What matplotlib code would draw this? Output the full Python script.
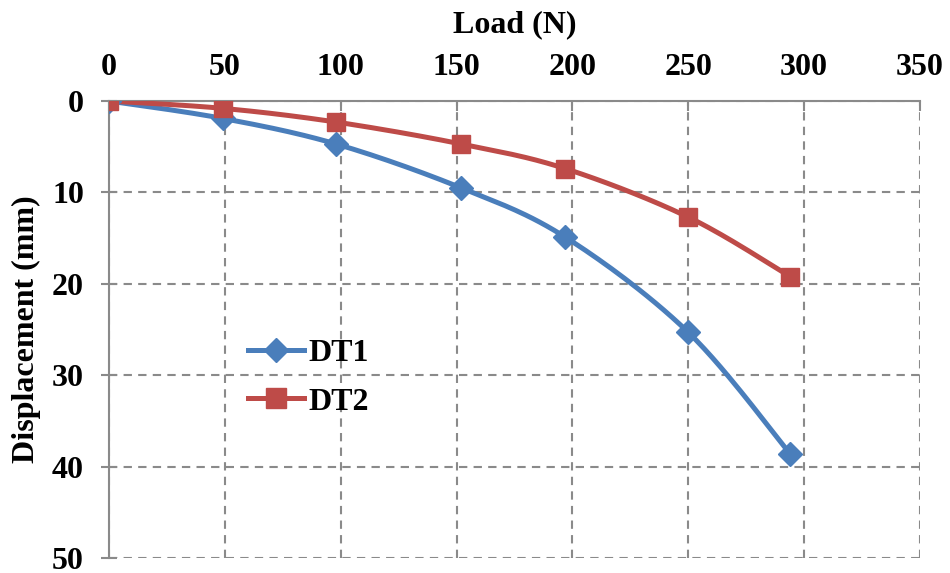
import matplotlib.pyplot as plt
import numpy as np

plt.rcParams['font.family'] = ['Liberation Serif', 'DejaVu Serif']
plt.rcParams['font.weight'] = 'bold'

# Load (N) and displacement (mm) for the two transducers
load = [0, 49, 98, 152, 197, 250, 294]
dt1 = [0, 1.9, 4.7, 9.5, 14.9, 25.3, 38.6]
dt2 = [0, 0.8, 2.3, 4.7, 7.4, 12.7, 19.2]

x_ticks = [0, 50, 100, 150, 200, 250, 300, 350]
y_ticks = [0, 10, 20, 30, 40, 50]


def smooth(x, y, sx, sy, n=30):
    """Catmull-Rom style bezier through the points (spreadsheet-like smoothing)"""
    p = np.column_stack([np.asarray(x, float) / sx, np.asarray(y, float) / sy])
    p = np.vstack([p[0], p, p[-1]])
    out = []
    t = np.linspace(0, 1, n)[:, None]
    for i in range(1, len(p) - 2):
        p0, p1, p2, p3 = p[i - 1], p[i], p[i + 1], p[i + 2]
        c1 = p1 + (p2 - p0) / 6
        c2 = p2 - (p3 - p1) / 6
        seg = ((1 - t) ** 3) * p1 + 3 * ((1 - t) ** 2) * t * c1 \
            + 3 * (1 - t) * t ** 2 * c2 + t ** 3 * p2
        out.append(seg if i == 1 else seg[1:])
    out = np.vstack(out)
    return out[:, 0] * sx, out[:, 1] * sy


fig = plt.figure(figsize=(9.5, 5.73), dpi=100)
ax = fig.add_axes([0.1147, 0.026, 0.8537, 0.7977])

blue = '#4A7EBB'
red = '#BE4B48'
sx, sy = 350 * 1.5, 50.0
fs = 23

xs, ys = smooth(load, dt1, sx, sy)
ax.plot(xs, ys, color=blue, lw=3.6, solid_capstyle='round', zorder=3)
ax.plot(load, dt1, 'D', color=blue, ms=12, zorder=4)
xs, ys = smooth(load, dt2, sx, sy)
ax.plot(xs, ys, color=red, lw=3.6, solid_capstyle='round', zorder=3)
ax.plot(load, dt2, 's', color=red, ms=13.5, zorder=4)

# legend proxies
h1, = ax.plot([], [], color=blue, lw=3.6, marker='D', ms=12, label='DT1')
h2, = ax.plot([], [], color=red, lw=3.6, marker='s', ms=14, label='DT2')
ax.legend(handles=[h1, h2], loc='upper left', bbox_to_anchor=(0.152, 0.515),
          frameon=False, fontsize=fs, handlelength=1.75, handletextpad=0.15,
          labelspacing=0.6, borderpad=0)

ax.set_xlim(0, 350)
ax.set_ylim(50, 0)
ax.set_xticks(x_ticks)
ax.set_yticks(y_ticks)
ax.xaxis.tick_top()
ax.xaxis.set_label_position('top')
ax.set_xlabel('Load (N)', fontsize=fs, fontweight='bold', labelpad=15)
ax.set_ylabel('Displacement (mm)', fontsize=fs, fontweight='bold', labelpad=8)

grey = '#8A8A8A'
ax.grid(True, linestyle=(0, (4, 3)), color=grey, lw=1.5)
for s in ['right', 'bottom']:
    ax.spines[s].set_visible(False)
for s in ['left', 'top']:
    ax.spines[s].set_color(grey)
    ax.spines[s].set_linewidth(1.5)
    ax.spines[s].set_zorder(2)
ax.tick_params(axis='x', direction='in', length=7, width=1.5, color=grey,
               labelsize=fs, pad=14)
ax.tick_params(axis='y', direction='inout', length=12, width=1.5, color=grey,
               labelsize=fs, pad=12)
for lab in ax.get_xticklabels() + ax.get_yticklabels():
    lab.set_fontweight('bold')

fig.savefig('out.png', dpi=100)
